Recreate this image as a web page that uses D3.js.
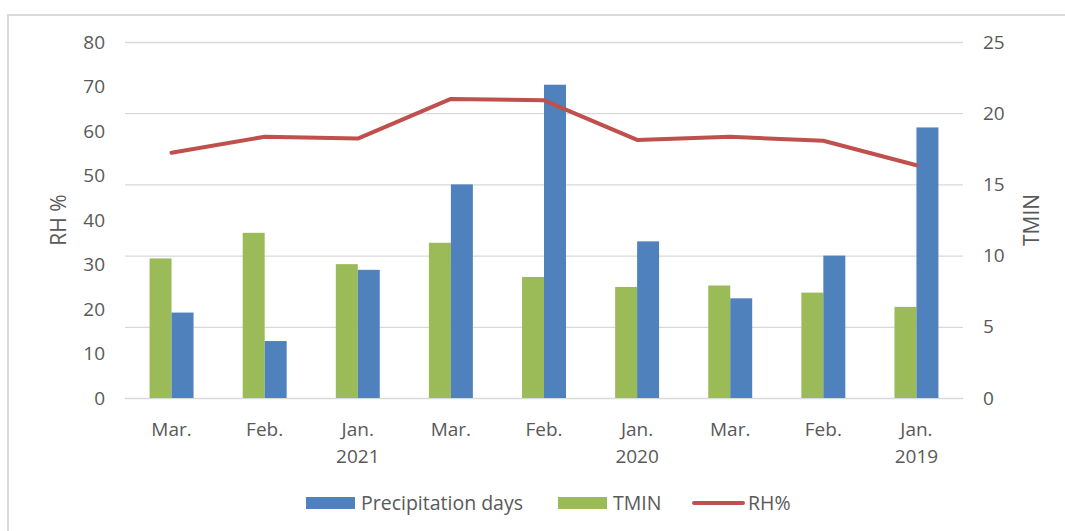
<!DOCTYPE html>
<html>
<head>
<meta charset="utf-8">
<script src="https://cdn.jsdelivr.net/npm/d3@7"></script>
<style>
  body { margin: 0; background: #fff; }
  text { font-family: "Open Sans", "Noto Sans", sans-serif; fill: #595959; }
</style>
</head>
<body>
<svg id="chart"></svg>
<script>
// chart data
const months = ["Mar.", "Feb.", "Jan.", "Mar.", "Feb.", "Jan.", "Mar.", "Feb.", "Jan."];
const years = ["", "", "2021", "", "", "2020", "", "", "2019"];
const precipDays = [6, 4, 9, 15, 22, 11, 7, 10, 19];
const tmin = [9.8, 11.6, 9.4, 10.9, 8.5, 7.8, 7.9, 7.4, 6.4];
const rh = [55.1, 58.7, 58.3, 67.2, 66.9, 58.0, 58.7, 57.8, 52.3];
const leftTicks = [0, 10, 20, 30, 40, 50, 60, 70, 80];
const rightTicks = [0, 5, 10, 15, 20, 25];

function drawChart() {
    const width = 1065;
    const height = 531;
    const left = 125, right = 963, top = 42, bottom = 398;

    const svg = d3.select("#chart")
        .attr("width", width)
        .attr("height", height);

    // outer frame (only top and left edges visible)
    svg.append("rect")
        .attr("x", 8)
        .attr("y", 15)
        .attr("width", width + 20)
        .attr("height", height + 20)
        .attr("fill", "none")
        .attr("stroke", "#d9d9d9")
        .attr("stroke-width", 2);

    const keys = months.map((m, i) => i);

    const xScale = d3.scaleBand()
        .domain(keys)
        .range([left, right]);

    const xSub = d3.scaleBand()
        .domain(["tmin", "precip"])
        .range([xScale.bandwidth() * 0.264, xScale.bandwidth() * 0.736]);

    const yLeft = d3.scaleLinear()
        .domain([0, 80])
        .range([bottom, top]);

    const yRight = d3.scaleLinear()
        .domain([0, 25])
        .range([bottom, top]);

    // gridlines follow the right axis ticks
    svg.append("g")
        .attr("transform", `translate(${left}, 0)`)
        .call(d3.axisLeft(yRight).tickValues(rightTicks).tickSize(-(right - left)).tickFormat(""))
        .call(g => g.select(".domain").remove())
        .call(g => g.selectAll("line").attr("stroke", "#d9d9d9").attr("stroke-width", 1.3));

    // left axis labels
    svg.append("g")
        .attr("transform", `translate(${left - 20}, 0)`)
        .call(d3.axisLeft(yLeft).tickValues(leftTicks).tickSize(0))
        .call(g => g.select(".domain").remove())
        .call(g => g.selectAll("text")
            .attr("x", 0)
            .style("font-size", "19px")
            .attr("fill", "#595959"));

    // right axis labels
    svg.append("g")
        .attr("transform", `translate(${right + 20}, 0)`)
        .call(d3.axisRight(yRight).tickValues(rightTicks).tickSize(0))
        .call(g => g.select(".domain").remove())
        .call(g => g.selectAll("text")
            .attr("x", 0)
            .style("font-size", "19px")
            .attr("fill", "#595959"));

    // bars
    svg.append("g")
        .selectAll("rect")
        .data(tmin)
        .enter()
        .append("rect")
            .attr("x", (d, i) => xScale(i) + xSub("tmin"))
            .attr("y", d => yRight(d))
            .attr("width", xSub.bandwidth())
            .attr("height", d => bottom - yRight(d))
            .attr("fill", "#9bbb59");

    svg.append("g")
        .selectAll("rect")
        .data(precipDays)
        .enter()
        .append("rect")
            .attr("x", (d, i) => xScale(i) + xSub("precip"))
            .attr("y", d => yRight(d))
            .attr("width", xSub.bandwidth())
            .attr("height", d => bottom - yRight(d))
            .attr("fill", "#4f81bd");

    // RH line
    const line = d3.line()
        .x((d, i) => xScale(i) + xScale.bandwidth() / 2)
        .y(d => yLeft(d));

    svg.append("path")
        .datum(rh)
        .attr("d", line)
        .attr("fill", "none")
        .attr("stroke", "#c0504d")
        .attr("stroke-width", 4)
        .attr("stroke-linejoin", "round")
        .attr("stroke-linecap", "round");

    // category labels, two lines
    const xAxis = svg.append("g")
        .attr("transform", `translate(0, ${bottom})`)
        .call(d3.axisBottom(xScale).tickSize(0).tickFormat(""))
        .call(g => g.select(".domain").remove());

    xAxis.selectAll(".tick")
        .append("text")
            .attr("y", 38)
            .style("font-size", "19px")
            .attr("text-anchor", "middle")
            .text(i => months[i]);

    xAxis.selectAll(".tick")
        .append("text")
            .attr("y", 65)
            .style("font-size", "19px")
            .attr("text-anchor", "middle")
            .text(i => years[i]);

    // axis titles
    svg.append("text")
        .attr("transform", "rotate(-90)")
        .attr("x", -220)
        .attr("y", 66)
        .style("text-anchor", "middle")
        .style("font-size", "21px")
        .text("RH %");

    svg.append("text")
        .attr("transform", "rotate(-90)")
        .attr("x", -220)
        .attr("y", 1039)
        .style("text-anchor", "middle")
        .style("font-size", "21px")
        .text("TMIN");

    // legend
    const legend = svg.append("g");

    legend.append("rect")
        .attr("x", 306).attr("y", 497)
        .attr("width", 49).attr("height", 12)
        .attr("fill", "#4f81bd");
    legend.append("text")
        .attr("x", 361).attr("y", 510)
        .style("font-size", "19.5px")
        .text("Precipitation days");

    legend.append("rect")
        .attr("x", 558).attr("y", 497)
        .attr("width", 49).attr("height", 12)
        .attr("fill", "#9bbb59");
    legend.append("text")
        .attr("x", 613).attr("y", 510)
        .style("font-size", "19.5px")
        .text("TMIN");

    legend.append("line")
        .attr("x1", 694).attr("x2", 743)
        .attr("y1", 503).attr("y2", 503)
        .attr("stroke", "#c0504d")
        .attr("stroke-width", 4)
        .attr("stroke-linecap", "round");
    legend.append("text")
        .attr("x", 748).attr("y", 510)
        .style("font-size", "19.5px")
        .text("RH%");
}

drawChart();
</script>
</body>
</html>
